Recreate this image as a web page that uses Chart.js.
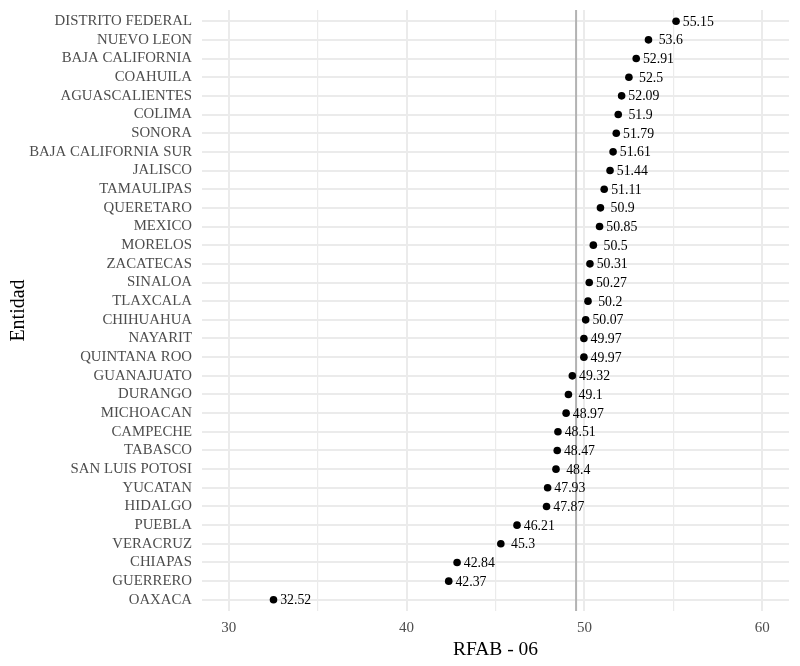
<!DOCTYPE html>
<html><head><meta charset="utf-8">
<script src="https://cdn.jsdelivr.net/npm/chart.js@4"></script>
<style>html,body{margin:0;padding:0;background:#fff}canvas{display:block}</style>
</head><body>
<canvas id="c" width="800" height="666"></canvas>
<script>
const entidades = ["DISTRITO FEDERAL","NUEVO LEON","BAJA CALIFORNIA","COAHUILA","AGUASCALIENTES","COLIMA","SONORA","BAJA CALIFORNIA SUR","JALISCO","TAMAULIPAS","QUERETARO","MEXICO","MORELOS","ZACATECAS","SINALOA","TLAXCALA","CHIHUAHUA","NAYARIT","QUINTANA ROO","GUANAJUATO","DURANGO","MICHOACAN","CAMPECHE","TABASCO","SAN LUIS POTOSI","YUCATAN","HIDALGO","PUEBLA","VERACRUZ","CHIAPAS","GUERRERO","OAXACA"];
const rfab = [55.15,53.6,52.91,52.5,52.09,51.9,51.79,51.61,51.44,51.11,50.9,50.85,50.5,50.31,50.27,50.2,50.07,49.97,49.97,49.32,49.1,48.97,48.51,48.47,48.4,47.93,47.87,46.21,45.3,42.84,42.37,32.52];
const referencia = [49.53];
const xTicks = [30,35,40,45,50,55,60];
const xMajor = [30,40,50,60];

const FONT = "'Liberation Serif','Times New Roman',serif";
Chart.defaults.font.family = FONT;

const labelPlugin = {
  id: 'valueLabels',
  afterDatasetsDraw(chart) {
    const ctx = chart.ctx, xs = chart.scales.x, ys = chart.scales.y;
    ctx.save();
    ctx.font = "13.8px " + FONT;
    ctx.fillStyle = '#000';
    ctx.textAlign = 'center';
    ctx.textBaseline = 'middle';
    rfab.forEach((v, i) => {
      ctx.fillText(String(v), xs.getPixelForValue(v + 1.25), ys.getPixelForValue(i) + 1);
    });
    ctx.restore();
  }
};

new Chart(document.getElementById('c'), {
  type: 'scatter',
  data: {
    datasets: [
      {
        type: 'line',
        data: [{x: referencia[0], y: -0.6}, {x: referencia[0], y: entidades.length - 0.4}],
        borderColor: '#b3b3b3', borderWidth: 2, pointRadius: 0, order: 2
      },
      {
        data: rfab.map((v, i) => ({x: v, y: i})),
        backgroundColor: '#000', borderColor: '#000', pointRadius: 3.8, borderWidth: 0, order: 1
      }
    ]
  },
  options: {
    responsive: false, animation: false,
    layout: {padding: {top: 10, right: 11, left: 0, bottom: 0}},
    plugins: {legend: {display: false}, tooltip: {enabled: false}},
    scales: {
      x: {
        type: 'linear', min: 28.5, max: 61.5,
        afterBuildTicks(s) { s.ticks = xTicks.map(v => ({value: v})); },
        afterFit(s) { s.height = 55; s.paddingLeft = 0; s.paddingRight = 0; },
        border: {display: false},
        grid: {color: '#ebebeb', lineWidth: c => (c.tick && xMajor.includes(c.tick.value)) ? 2 : 1.2, drawTicks: false},
        ticks: {callback: v => xMajor.includes(v) ? String(v) : '', color: '#4d4d4d', font: {size: 15}, padding: 8, maxRotation: 0, autoSkip: false},
        title: {display: true, text: 'RFAB - 06', color: '#000', font: {size: 19.5}, padding: {top: 0, bottom: 4}}
      },
      y: {
        type: 'linear', reverse: true, min: -0.6, max: entidades.length - 0.4,
        afterBuildTicks(s) { s.ticks = entidades.map((_, i) => ({value: i})); },
        afterFit(s) { s.width = 202; s.paddingTop = 0; s.paddingBottom = 0; },
        border: {display: false},
        grid: {color: '#ebebeb', lineWidth: 2, drawTicks: false},
        ticks: {callback: v => entidades[v], color: '#4d4d4d', font: {size: 14.8}, padding: 10, autoSkip: false},
        title: {display: true, text: 'Entidad', color: '#000', font: {size: 20}, padding: {top: 7, bottom: 0}}
      }
    }
  },
  plugins: [labelPlugin]
});
</script>
</body></html>
